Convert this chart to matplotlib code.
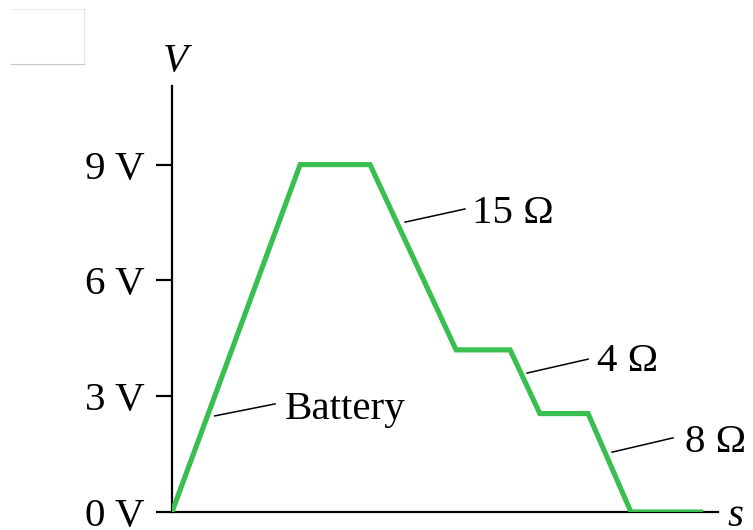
import matplotlib
matplotlib.use("Agg")
import matplotlib.pyplot as plt
from matplotlib.lines import Line2D

# Data
s_vals = [0, 3.32, 5.13, 7.36, 8.76, 9.53, 10.78, 11.89, 13.76]
v_vals = [0, 9, 9, 4.2, 4.2, 2.55, 2.55, 0, 0]
yticks = [0, 3, 6, 9]
ytick_labels = ["0 V", "3 V", "6 V", "9 V"]
labels = ["Battery", "15 Ω", "4 Ω", "8 Ω"]
leader_start = [(1.11, 2.49), (6.04, 7.51), (9.20, 3.60), (11.40, 1.55)]
leader_end = [(2.67, 2.80), (7.59, 7.85), (10.78, 3.96), (12.98, 1.92)]
text_pos = [(2.93, 2.77), (7.77, 7.85), (11.01, 4.02), (13.29, 1.92)]

W, H = 753, 530
fig = plt.figure(figsize=(W / 100, H / 100), dpi=100)
ax = fig.add_axes([172 / W, (H - 512) / H, (718 - 172) / W, (512 - 86) / H])
ax.set_xlim(0, (718 - 172) / 38.6)
ax.set_ylim(0, (512 - 86) / 38.6)

serif = "Liberation Serif"
fs = 29.5

ax.plot(s_vals, v_vals, color="#38bf50", lw=3.7, solid_joinstyle="miter",
        solid_capstyle="butt", zorder=3)

for sp in ["top", "right"]:
    ax.spines[sp].set_visible(False)
for sp in ["left", "bottom"]:
    ax.spines[sp].set_linewidth(1.6)
    ax.spines[sp].set_color("black")

ax.set_xticks([])
ax.set_yticks(yticks)
ax.set_yticklabels(ytick_labels, fontfamily=serif, fontsize=fs)
ax.tick_params(axis="y", direction="out", length=11.5, width=1.6, pad=8)

for (x0, y0), (x1, y1), (tx, ty), lab in zip(leader_start, leader_end, text_pos, labels):
    ax.add_line(Line2D([x0, x1], [y0, y1], color="black", lw=1.1))
    ax.text(tx, ty, lab, fontfamily=serif, fontsize=fs, ha="left", va="center_baseline")

fig.text(175 / W, 1 - 62 / H, "V", fontfamily=serif, fontstyle="italic",
         fontsize=fs, ha="center", va="center")
fig.text(736 / W, 1 - 516 / H, "s", fontfamily=serif, fontstyle="italic",
         fontsize=fs, ha="center", va="center")

# faint box at top-left
fig.add_artist(Line2D([11 / W, 84 / W], [1 - 9 / H, 1 - 9 / H], color="#ececec", lw=0.8))
fig.add_artist(Line2D([84 / W, 84 / W], [1 - 9 / H, 1 - 64 / H], color="#e4e4e4", lw=0.8))
fig.add_artist(Line2D([11 / W, 84 / W], [1 - 64 / H, 1 - 64 / H], color="#c8c8c8", lw=0.8))

fig.savefig("out.png", dpi=100)
